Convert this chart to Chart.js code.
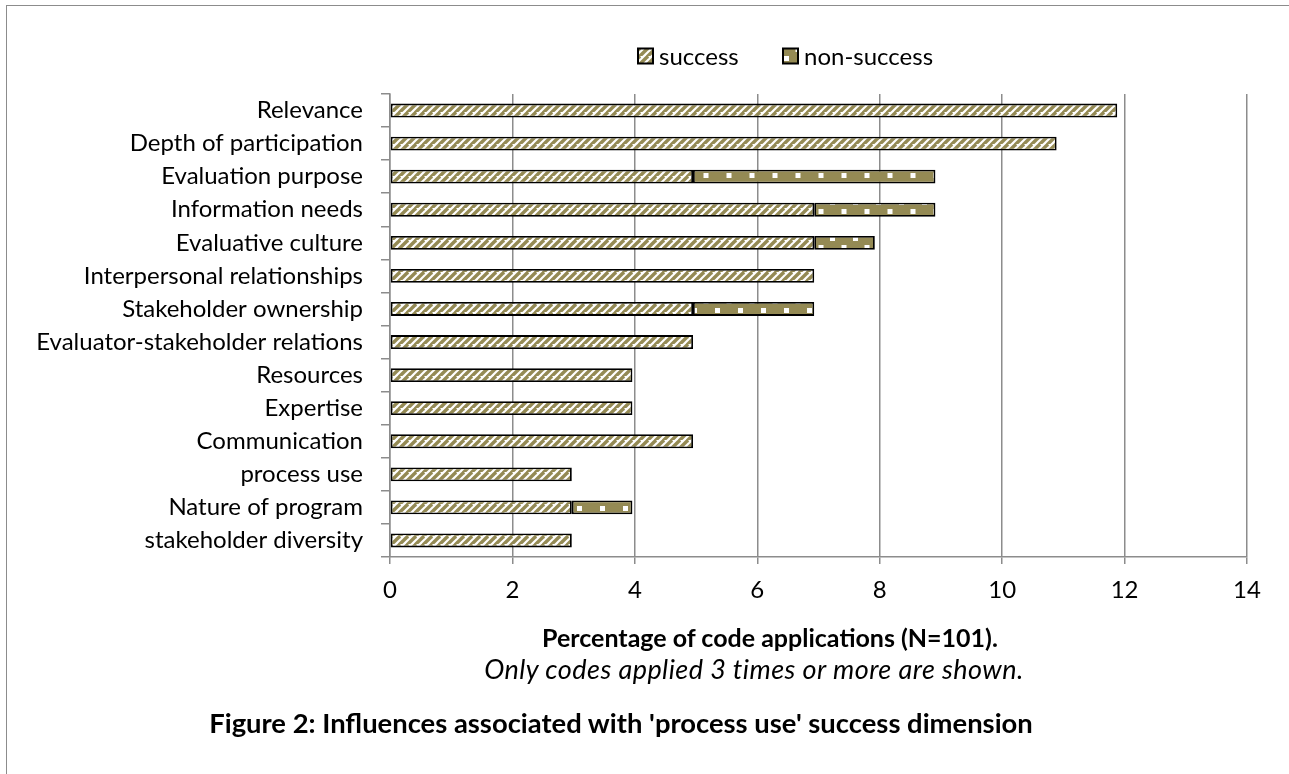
<!DOCTYPE html>
<html>
<head>
<meta charset="utf-8">
<script src="https://cdn.jsdelivr.net/npm/chart.js@4/dist/chart.umd.min.js"></script>
<style>
  html, body { margin:0; padding:0; background:#fff; }
  body { width:1289px; height:774px; position:relative; overflow:hidden; font-family: Lato, "Open Sans", sans-serif; }
  #frame { position:absolute; left:6px; top:5px; width:1400px; height:900px; border-left:1.5px solid #8c8c8c; border-top:1.5px solid #8c8c8c; }
  #wrap { position:absolute; left:0; top:0; width:1289px; height:774px; }
  .txt { position:absolute; white-space:nowrap; color:#000; transform:translate(-50%,-50%); }
  #xt { left:770px; top:637px; font-weight:bold; font-size:25px; }
  #xs { left:754px; top:668px; font-style:italic; font-size:27px; letter-spacing:0.45px; }
  #cap { left:621px; top:722px; font-weight:bold; font-size:27.4px; }
</style>
</head>
<body>
<div id="frame"></div>
<div id="wrap"><canvas id="c" width="1289" height="774"></canvas></div>
<div class="txt" id="xt">Percentage of code applications (N=101).</div>
<div class="txt" id="xs">Only codes applied 3 times or more are shown.</div>
<div class="txt" id="cap">Figure 2: Influences associated with 'process use' success dimension</div>
<script>
const categories = ["Relevance","Depth of participation","Evaluation purpose","Information needs","Evaluative culture","Interpersonal relationships","Stakeholder ownership","Evaluator-stakeholder relations","Resources","Expertise","Communication","process use","Nature of program","stakeholder diversity"];
const successValues = [11.88, 10.89, 4.95, 6.93, 6.93, 6.93, 4.95, 4.95, 3.96, 3.96, 4.95, 2.97, 2.97, 2.97];
const nonSuccessValues = [0, 0, 3.96, 1.98, 0.99, 0, 1.98, 0, 0, 0, 0, 0, 0.99, 0];
const seriesNames = ["success", "non-success"];
const xTicks = [0, 2, 4, 6, 8, 10, 12, 14];

const OLIVE = '#948a54';
const FONT = 'Lato, "Open Sans", sans-serif';

function stripePattern() {
  const t = document.createElement('canvas');
  t.width = 8; t.height = 8;
  const g = t.getContext('2d');
  g.fillStyle = '#fff'; g.fillRect(0,0,8,8);
  g.strokeStyle = OLIVE; g.lineWidth = 3.4;
  for (let k = -8; k <= 16; k += 8) {
    g.beginPath(); g.moveTo(k - 1, 9); g.lineTo(k + 8, 0); g.stroke();
  }
  return g.createPattern(t, 'repeat');
}
function dotPattern() {
  const t = document.createElement('canvas');
  t.width = 23; t.height = 18;
  const g = t.getContext('2d');
  g.fillStyle = OLIVE; g.fillRect(0,0,23,18);
  g.fillStyle = '#fff';
  g.fillRect(2, 2, 5, 5);
  g.fillRect(13.5, 11, 5, 5);
  return g.createPattern(t, 'repeat');
}
const pats = [stripePattern(), dotPattern()];

const legendPlugin = {
  id: 'customLegend',
  afterDraw(chart) {
    const ctx = chart.ctx;
    ctx.save();
    ctx.font = '24px ' + FONT;
    ctx.textBaseline = 'middle';
    const y = 56;
    const pos = [638, 783];
    chart.data.datasets.forEach((ds, i) => {
      const x = pos[i];
      ctx.fillStyle = ds.backgroundColor;
      ctx.fillRect(x, y - 7.5, 15, 15);
      ctx.strokeStyle = '#000'; ctx.lineWidth = 2;
      ctx.strokeRect(x, y - 7.5, 15, 15);
      ctx.fillStyle = '#000';
      ctx.fillText(ds.label, x + 21, y + 1);
    });
    ctx.restore();
  }
};

new Chart(document.getElementById('c'), {
  type: 'bar',
  data: {
    labels: categories,
    datasets: [
      { label: seriesNames[0], data: successValues, backgroundColor: pats[0], borderColor: '#000', borderWidth: 1.8, borderSkipped: false },
      { label: seriesNames[1], data: nonSuccessValues, backgroundColor: pats[1], borderColor: '#000', borderWidth: 1.8, borderSkipped: false }
    ]
  },
  options: {
    indexAxis: 'y',
    responsive: false,
    animation: false,
    devicePixelRatio: 1,
    layout: { padding: { top: 94, right: 42, bottom: 774 - 557 - 50, left: 0 } },
    datasets: { bar: { categoryPercentage: 1, barPercentage: 0.42 } },
    plugins: { legend: { display: false }, tooltip: { enabled: false }, title: { display: false } },
    scales: {
      x: {
        stacked: true, min: 0, max: 14,
        afterBuildTicks: (s) => { s.ticks = xTicks.map(v => ({ value: v })); },
        grid: { color: '#8c8c8c', lineWidth: 1.5, drawTicks: true, tickLength: 7 },
        border: { color: '#8c8c8c', width: 1.5 },
        ticks: { color: '#000', font: { family: FONT, size: 24 }, padding: 12 },
        afterFit: (s) => { s.height = 50; }
      },
      y: {
        stacked: true,
        grid: { drawOnChartArea: false, drawTicks: true, tickLength: 9, color: '#8c8c8c', lineWidth: 1.5, offset: true },
        border: { color: '#8c8c8c', width: 1.5 },
        ticks: { color: '#000', font: { family: FONT, size: 24 }, padding: 18, autoSkip: false },
        afterFit: (s) => { s.width = 390; }
      }
    }
  },
  plugins: [legendPlugin]
});
</script>
</body>
</html>
